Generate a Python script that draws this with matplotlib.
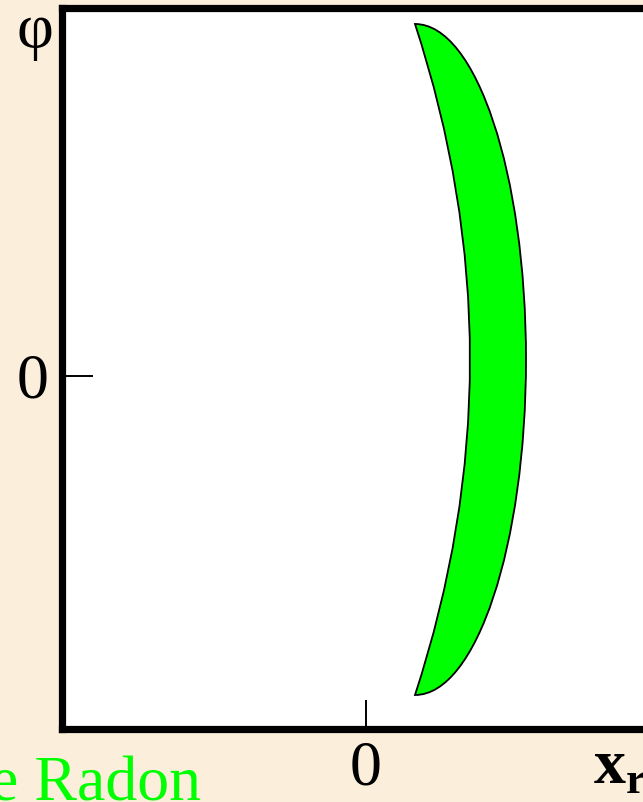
import matplotlib
matplotlib.use("Agg")
import matplotlib.pyplot as plt
from matplotlib.path import Path
from matplotlib.patches import PathPatch

plt.rcParams["font.family"] = ["Liberation Serif", "DejaVu Serif"]
plt.rcParams["mathtext.fontset"] = "custom"
plt.rcParams["mathtext.rm"] = "Liberation Serif"
plt.rcParams["mathtext.bf"] = "Liberation Serif:bold"

# Sinogram band of an off-centre disk (arbitrary units)
phi_top = 3.52        # upper tip of the band
phi_bottom = -3.19    # lower tip of the band
x_tip = 0.49          # x_r at both tips
x_inner_mid = 1.04    # inner (left) edge at mid height
x_outer_mid = 1.60    # outer (right) edge at mid height

x_ticks = [0]
x_tick_labels = ["0"]
y_ticks = [0]
y_tick_labels = ["0"]

x_limits = (-3.045, 3.34)
y_limits = (-3.525, 3.675)

BG = "#FBEEDA"
GREEN = "#00FF00"

fig = plt.figure(figsize=(6.43, 8.02), dpi=100, facecolor=BG)
W, H = 643, 802
ax = fig.add_axes([61.5 / W, (H - 728.5) / H, (700 - 61.5) / W, (728.5 - 8.5) / H])
ax.set_facecolor("white")
ax.set_xlim(*x_limits)
ax.set_ylim(*y_limits)

for side in ["left", "top", "bottom", "right"]:
    ax.spines[side].set_linewidth(5.2)
    ax.spines[side].set_color("black")

# Band outline: parabolic inner edge, elliptical outer edge
phi_mid = 0.5 * (phi_top + phi_bottom)
half_h = 0.5 * (phi_top - phi_bottom)
k = 0.5523
a = x_outer_mid - x_tip
verts = [
    (x_tip, phi_top),
    (x_tip + 2 * (x_inner_mid - x_tip), phi_mid),
    (x_tip, phi_bottom),
    (x_tip + k * a, phi_bottom),
    (x_outer_mid, phi_mid - k * half_h),
    (x_outer_mid, phi_mid),
    (x_outer_mid, phi_mid + k * half_h),
    (x_tip + k * a, phi_top),
    (x_tip, phi_top),
    (x_tip, phi_top),
]
codes = [Path.MOVETO, Path.CURVE3, Path.CURVE3,
         Path.CURVE4, Path.CURVE4, Path.CURVE4,
         Path.CURVE4, Path.CURVE4, Path.CURVE4,
         Path.CLOSEPOLY]
ax.add_patch(PathPatch(Path(verts, codes), facecolor=GREEN,
                       edgecolor="black", linewidth=1.3, joinstyle="miter"))

ax.set_xticks(x_ticks)
ax.set_xticklabels(x_tick_labels)
ax.set_yticks(y_ticks)
ax.set_yticklabels(y_tick_labels)
ax.tick_params(axis="x", direction="in", length=21, width=1.4,
               labelsize=46, pad=8.5, top=False)
ax.tick_params(axis="y", direction="in", length=22, width=1.4,
               labelsize=46, pad=9.5, right=False)

fig.text(35 / W, (H - 47) / H, "φ", fontsize=46, ha="center", va="baseline")
fig.text(593 / W, (H - 783) / H, r"$\mathbf{x}_\mathbf{r}$", fontsize=46,
         ha="left", va="baseline")
fig.text(201 / W, (H - 799) / H, "Transformée de Radon", fontsize=46,
         color=GREEN, ha="right", va="baseline")

fig.savefig("out.png", dpi=100, facecolor=BG)
